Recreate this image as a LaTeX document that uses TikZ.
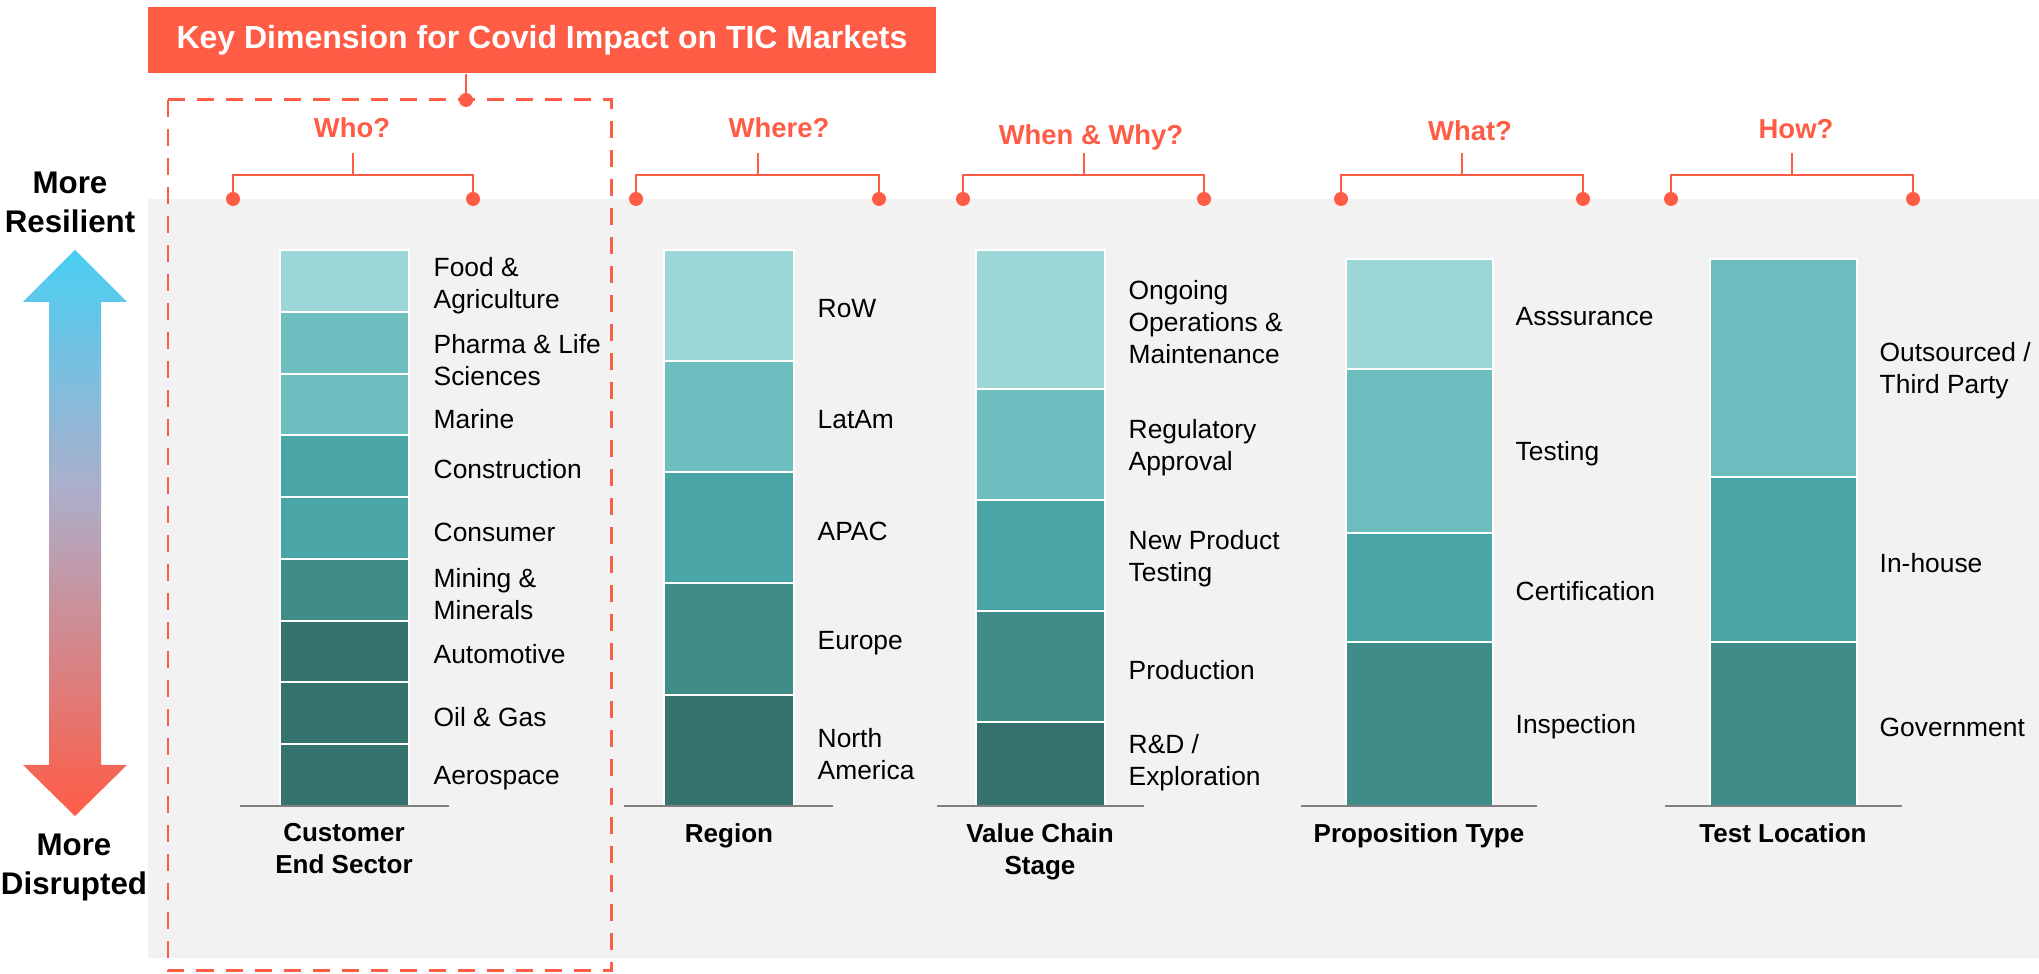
\documentclass[tikz,border=0pt]{standalone}
\usepackage{fontspec}
\setmainfont{Liberation Sans}

\definecolor{tic}{HTML}{FF5C46}
\definecolor{arrtop}{HTML}{48CFF3}
\definecolor{arrmid}{HTML}{ABAFCB}
\definecolor{panel}{HTML}{F2F2F2}
\definecolor{tealA}{HTML}{9DD6D6}
\definecolor{tealB}{HTML}{6DBFBF}
\definecolor{tealC}{HTML}{4AA6A6}
\definecolor{tealD}{HTML}{408C89}
\definecolor{tealE}{HTML}{35726D}

% градиент стрелки: снизу красный, сверху голубой
\pgfdeclareverticalshading{resilience}{100bp}{color(0bp)=(tic); color(25bp)=(tic); color(54bp)=(arrmid); color(75bp)=(arrtop); color(100bp)=(arrtop)}

\begin{document}
\begin{tikzpicture}[x=0.01cm, y=-0.01cm,
    titlebox/.style={fill=tic, text=white, font=\bfseries\fontsize{9.1}{11}\selectfont, minimum width=7.88cm, minimum height=0.66cm, inner sep=0pt},
    dashbox/.style={tic, line width=0.85pt, dash pattern=on 0.17cm off 0.12cm},
    bracket/.style={tic, line width=0.75pt},
    dot/.style={circle, fill=tic, inner sep=0pt, minimum size=0.14cm},
    ask/.style={text=tic, font=\bfseries\fontsize{7.8}{9}\selectfont, inner sep=0pt, anchor=base},
    pole/.style={font=\bfseries\fontsize{8.9}{11.1}\selectfont, align=center, anchor=north, inner sep=0pt},
    seg/.style={draw=white, line width=0.5pt},
    axisline/.style={gray, line width=0.6pt},
    lbl/.style={font=\fontsize{7.5}{9.1}\selectfont, align=left, anchor=west, inner sep=0pt, yshift=-0.03cm},
    dim/.style={font=\bfseries\fontsize{7.4}{9.1}\selectfont, align=center, anchor=north, inner sep=0pt}]

        % фон
        \fill[white] (0,0) rectangle (2039,974);
        \fill[panel] (148,199) rectangle (2039,958);

        % шкала устойчивости
        \shade[shading=resilience] (75,250) -- (127,302) -- (101,302) -- (101,765) -- (127,765) -- (75,816) -- (23,765) -- (49,765) -- (49,302) -- (23,302) -- cycle;
        \node[pole] (resilient) at (70,171) {More\\Resilient};
        \node[pole] (disrupted) at (74,833) {More\\Disrupted};

        % заголовок и выделенная рамка
        \node[titlebox] (title) at (542,40) {Key Dimension for Covid Impact on TIC Markets};
        \draw[dashbox] (168,100) rectangle (611,971);
        \node[dot] (key) at (466,100) {};
        \draw[bracket] (title.south -| key) -- (key.center);

        % Who?
        \node[ask] (who) at (352,138) {Who?};
        \node[dot] (whoL) at (233,199) {};
        \node[dot] (whoR) at (473,199) {};
        \coordinate (whoT) at (353,153);
        \draw[bracket] (whoL.center) -- ++(0,-24) -| (whoR.center);
        \draw[bracket] (whoT) -- ++(0,22);

        % Where?
        \node[ask] (where) at (779,138) {Where?};
        \node[dot] (whereL) at (636,199) {};
        \node[dot] (whereR) at (879,199) {};
        \coordinate (whereT) at (758,153);
        \draw[bracket] (whereL.center) -- ++(0,-24) -| (whereR.center);
        \draw[bracket] (whereT) -- ++(0,22);

        % When & Why?
        \node[ask] (when) at (1091,145) {When \& Why?};
        \node[dot] (whenL) at (963,199) {};
        \node[dot] (whenR) at (1204,199) {};
        \coordinate (whenT) at (1084,153);
        \draw[bracket] (whenL.center) -- ++(0,-24) -| (whenR.center);
        \draw[bracket] (whenT) -- ++(0,22);

        % What?
        \node[ask] (what) at (1470,141) {What?};
        \node[dot] (whatL) at (1341,199) {};
        \node[dot] (whatR) at (1583,199) {};
        \coordinate (whatT) at (1462,153);
        \draw[bracket] (whatL.center) -- ++(0,-24) -| (whatR.center);
        \draw[bracket] (whatT) -- ++(0,22);

        % How?
        \node[ask] (how) at (1796,139) {How?};
        \node[dot] (howL) at (1671,199) {};
        \node[dot] (howR) at (1913,199) {};
        \coordinate (howT) at (1792,153);
        \draw[bracket] (howL.center) -- ++(0,-24) -| (howR.center);
        \draw[bracket] (howT) -- ++(0,22);

        % сектор заказчика
        \filldraw[seg, fill=tealA] (280,250) rectangle (409,312);
        \filldraw[seg, fill=tealB] (280,312) rectangle (409,374);
        \filldraw[seg, fill=tealB] (280,374) rectangle (409,435);
        \filldraw[seg, fill=tealC] (280,435) rectangle (409,497);
        \filldraw[seg, fill=tealC] (280,497) rectangle (409,559);
        \filldraw[seg, fill=tealD] (280,559) rectangle (409,621);
        \filldraw[seg, fill=tealE] (280,621) rectangle (409,682);
        \filldraw[seg, fill=tealE] (280,682) rectangle (409,744);
        \filldraw[seg, fill=tealE] (280,744) rectangle (409,806);
        \draw[axisline] (240,806) -- (449,806);
        \node[lbl] (food) at (433,283) {Food \&\\Agriculture};
        \node[lbl] (pharma) at (433,357) {Pharma \& Life\\Sciences};
        \node[lbl] (marine) at (433,416) {Marine};
        \node[lbl] (construction) at (433,466) {Construction};
        \node[lbl] (consumer) at (433,529) {Consumer};
        \node[lbl] (mining) at (433,591) {Mining \&\\Minerals};
        \node[lbl] (automotive) at (433,651) {Automotive};
        \node[lbl] (oilgas) at (433,714) {Oil \& Gas};
        \node[lbl] (aerospace) at (433,775) {Aerospace};
        \node[dim] (sector) at (344,823) {Customer\\End Sector};

        % регион
        \filldraw[seg, fill=tealA] (664,250) rectangle (794,361);
        \filldraw[seg, fill=tealB] (664,361) rectangle (794,472);
        \filldraw[seg, fill=tealC] (664,472) rectangle (794,583);
        \filldraw[seg, fill=tealD] (664,583) rectangle (794,695);
        \filldraw[seg, fill=tealE] (664,695) rectangle (794,806);
        \draw[axisline] (624,806) -- (833,806);
        \node[lbl] (row) at (817,306) {RoW};
        \node[lbl] (latam) at (817,417) {LatAm};
        \node[lbl] (apac) at (817,528) {APAC};
        \node[lbl] (europe) at (817,640) {Europe};
        \node[lbl] (namerica) at (817,751) {North\\America};
        \node[dim] (region) at (729,823) {Region};

        % цепочка создания стоимости
        \filldraw[seg, fill=tealA] (976,250) rectangle (1105,389);
        \filldraw[seg, fill=tealB] (976,389) rectangle (1105,500);
        \filldraw[seg, fill=tealC] (976,500) rectangle (1105,611);
        \filldraw[seg, fill=tealD] (976,611) rectangle (1105,722);
        \filldraw[seg, fill=tealE] (976,722) rectangle (1105,806);
        \draw[axisline] (937,806) -- (1144,806);
        \node[lbl] (ongoing) at (1128,319) {Ongoing\\Operations \&\\Maintenance};
        \node[lbl] (regulatory) at (1128,445) {Regulatory\\Approval};
        \node[lbl] (newproduct) at (1128,556) {New Product\\Testing};
        \node[lbl] (production) at (1128,667) {Production};
        \node[lbl] (rnd) at (1128,760) {R\&D /\\Exploration};
        \node[dim] (chain) at (1040,823) {Value Chain\\Stage};

        % тип услуги
        \filldraw[seg, fill=tealA] (1346,259) rectangle (1493,369);
        \filldraw[seg, fill=tealB] (1346,369) rectangle (1493,533);
        \filldraw[seg, fill=tealC] (1346,533) rectangle (1493,642);
        \filldraw[seg, fill=tealD] (1346,642) rectangle (1493,806);
        \draw[axisline] (1301,806) -- (1537,806);
        \node[lbl] (assurance) at (1515,314) {Asssurance};
        \node[lbl] (testing) at (1515,451) {Testing};
        \node[lbl] (certification) at (1515,588) {Certification};
        \node[lbl] (inspection) at (1515,724) {Inspection};
        \node[dim] (proposition) at (1419,823) {Proposition Type};

        % место испытаний
        \filldraw[seg, fill=tealB] (1710,259) rectangle (1857,477);
        \filldraw[seg, fill=tealC] (1710,477) rectangle (1857,642);
        \filldraw[seg, fill=tealD] (1710,642) rectangle (1857,806);
        \draw[axisline] (1665,806) -- (1902,806);
        \node[lbl] (outsourced) at (1879,368) {Outsourced /\\Third Party};
        \node[lbl] (inhouse) at (1879,560) {In-house};
        \node[lbl] (government) at (1879,724) {Government};
        \node[dim] (location) at (1783,823) {Test Location};
    \end{tikzpicture}
\end{document}
